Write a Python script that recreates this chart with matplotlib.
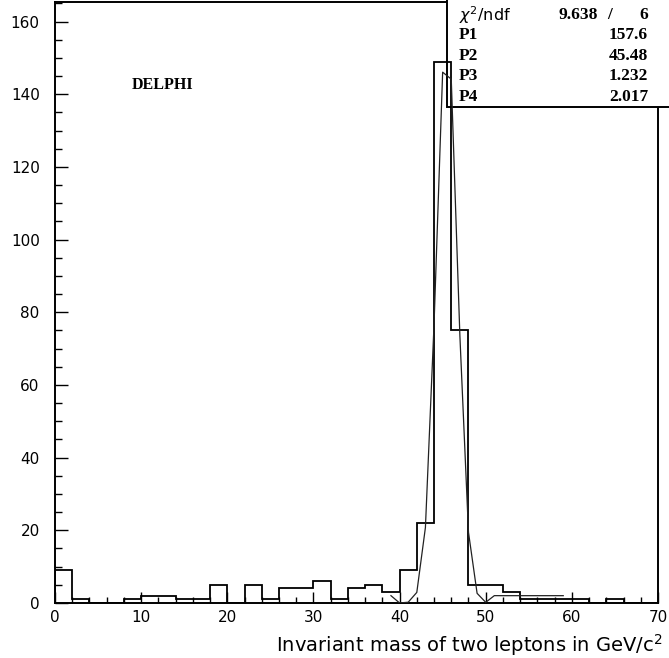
import numpy as np
import matplotlib
matplotlib.use("Agg")
import matplotlib.pyplot as plt
from matplotlib.patches import Rectangle
from matplotlib.ticker import MultipleLocator

# Dilepton invariant mass histogram (2 GeV bins, 0-70 GeV/c^2)
bin_edges = np.arange(0, 72, 2)
counts = [9, 1, 0, 0, 1, 2, 2, 1, 1, 5, 0, 5, 1, 4, 4, 6, 1, 4, 5, 3,
          9, 22, 149, 75, 5, 5, 3, 1, 1, 1, 1, 0, 1, 0, 0]

# Fit results (Gaussian peak + flat background outside the peak window)
chi2, ndf = 9.638, 6
P1, P2, P3, P4 = 157.6, 45.48, 1.232, 2.017
fit_lo, fit_hi = 39, 59
window = (40, 50)

W, H, DPI = 669, 658, 100
fig = plt.figure(figsize=(W / DPI, H / DPI), dpi=DPI)
ax = fig.add_axes([55 / W, (H - 603) / H, (658 - 55) / W, (603 - 2) / H])

ax.stairs(counts, bin_edges, color="black", lw=1.3, zorder=3, baseline=0)

# fitted function, sampled at 1 GeV steps
fx = np.arange(fit_lo, fit_hi + 1, 1.0)
fy = P1 * np.exp(-0.5 * ((fx - P2) / P3) ** 2)
fy = fy + np.where((fx < window[0]) | (fx > window[1]), P4, 0.0)
ax.plot(fx, fy, color="#222222", lw=0.9, zorder=3)

ax.set_xlim(0, 70)
ax.set_ylim(0, 149 * 1.11)

ax.xaxis.set_major_locator(MultipleLocator(10))
ax.xaxis.set_minor_locator(MultipleLocator(2))
ax.yaxis.set_major_locator(MultipleLocator(20))
ax.yaxis.set_minor_locator(MultipleLocator(5))
ax.tick_params(which="both", direction="in", top=False, right=False,
               width=1.0, colors="black", labelsize=11)
ax.tick_params(axis="x", which="major", length=8, pad=5)
ax.tick_params(axis="x", which="minor", length=4)
ax.tick_params(axis="y", which="major", length=9, pad=11)
ax.tick_params(axis="y", which="minor", length=5)
for s in ax.spines.values():
    s.set_linewidth(1.4)

# statistics box in the upper right corner
box = Rectangle((447 / W, (H - 106.7) / H), 0.5, 0.2,
                transform=fig.transFigure, facecolor="white",
                edgecolor="black", lw=1.4, clip_on=False, zorder=2.6)
ax.add_patch(box)

rows_y = [15, 35.4, 55.8, 76.2, 96.6]
serif = dict(family="Liberation Serif", weight="bold", fontsize=12.5)


def fy_px(y):
    return (H - y) / H


fig.text(459 / W, fy_px(rows_y[0]), r"$\chi^2$/ndf", fontsize=11.5,
         family="DejaVu Sans", va="center", ha="left", zorder=5)
fig.text(598 / W, fy_px(rows_y[0]), f"{chi2:.3f}", va="center", ha="right", **serif)
fig.text(610 / W, fy_px(rows_y[0]), "/", va="center", ha="center", **serif)
fig.text(648 / W, fy_px(rows_y[0]), f"{ndf}", va="center", ha="right", **serif)

labels = ["P1", "P2", "P3", "P4"]
values = [f"{P1:.1f}", f"{P2:.2f}", f"{P3:.3f}", f"{P4:.3f}"]
for lab, val, y in zip(labels, values, rows_y[1:]):
    fig.text(459 / W, fy_px(y), lab, va="center", ha="left", **serif)
    fig.text(648 / W, fy_px(y), val, va="center", ha="right", **serif)

fig.text(163 / W, fy_px(85), "DELPHI", family="Liberation Serif",
         weight="bold", fontsize=11.5, ha="center", va="center")

fig.text(663 / W, fy_px(645), r"Invariant mass of two leptons in GeV/c$^2$",
         family="DejaVu Sans", fontsize=14, ha="right", va="center")

fig.savefig("out.png", dpi=DPI)
